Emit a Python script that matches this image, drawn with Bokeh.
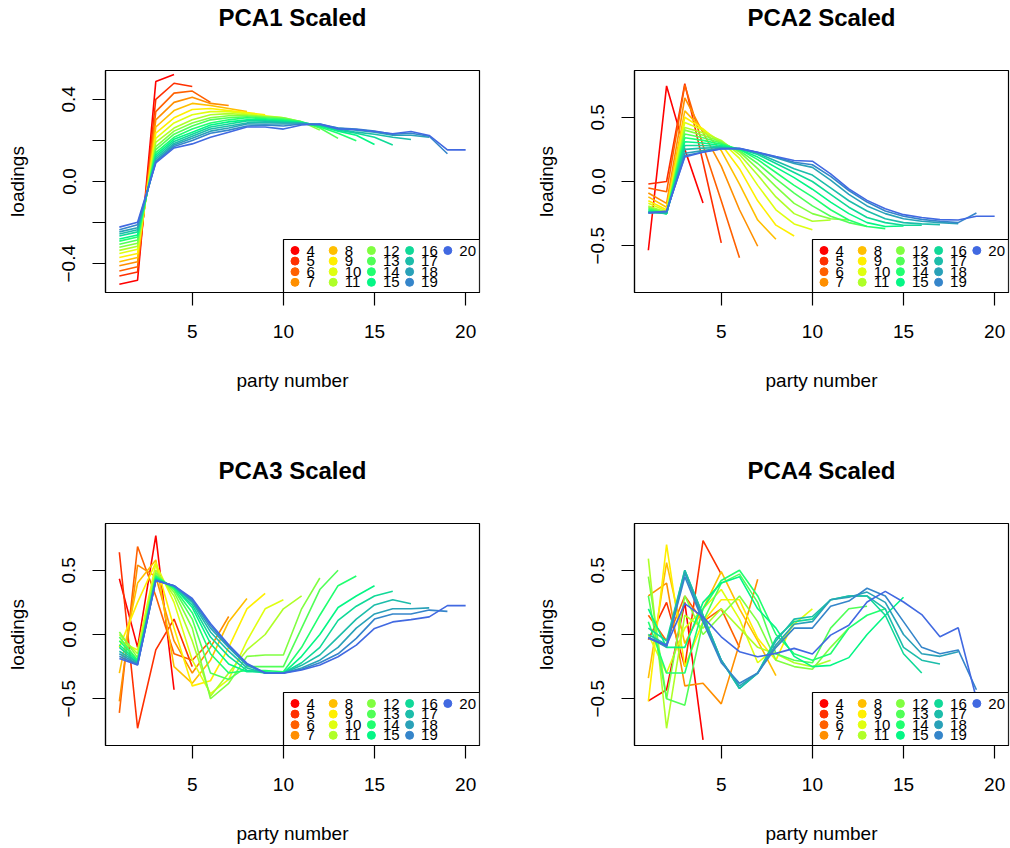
from bokeh.plotting import figure
from bokeh.layouts import gridplot
from bokeh.models import FixedTicker, Title
from bokeh.core.properties import value
from bokeh.embed import file_html
from bokeh.resources import INLINE

# ---------------- data ----------------
PARTY_COUNTS = list(range(4, 21))          # number of parties (one line each)
X_TICKS = [5, 10, 15, 20]
TITLES = ["PCA1 Scaled", "PCA2 Scaled", "PCA3 Scaled", "PCA4 Scaled"]

# PCA1 loadings, one list per party count (x = 1..n)
pca1_04 = [-0.50, -0.48, 0.486, 0.52]
pca1_05 = [-0.46, -0.44, 0.40, 0.478, 0.462]
pca1_06 = [-0.435, -0.415, 0.34, 0.43, 0.44, 0.385]
pca1_07 = [-0.41, -0.39, 0.30, 0.385, 0.41, 0.38, 0.37]
pca1_08 = [-0.39, -0.37, 0.265, 0.345, 0.38, 0.37, 0.355, 0.34]
pca1_09 = [-0.37, -0.35, 0.235, 0.31, 0.35, 0.355, 0.345, 0.335, 0.325]
pca1_10 = [-0.35, -0.33, 0.21, 0.285, 0.325, 0.34, 0.34, 0.33, 0.32, 0.31]
pca1_11 = [-0.335, -0.315, 0.19, 0.26, 0.30, 0.325, 0.33, 0.325, 0.315, 0.31, 0.29]
pca1_12 = [-0.32, -0.30, 0.17, 0.245, 0.285, 0.31, 0.32, 0.32, 0.315, 0.31, 0.29, 0.25]
pca1_13 = [-0.305, -0.285, 0.155, 0.23, 0.27, 0.30, 0.31, 0.315, 0.31, 0.305, 0.29, 0.26, 0.21]
pca1_14 = [-0.29, -0.27, 0.14, 0.215, 0.255, 0.285, 0.30, 0.31, 0.305, 0.30, 0.29, 0.265, 0.235, 0.198]
pca1_15 = [-0.28, -0.26, 0.13, 0.205, 0.24, 0.275, 0.29, 0.30, 0.30, 0.295, 0.285, 0.27, 0.245, 0.225, 0.18]
pca1_16 = [-0.265, -0.245, 0.12, 0.195, 0.23, 0.265, 0.28, 0.295, 0.295, 0.29, 0.285, 0.275, 0.25, 0.235, 0.215, 0.178]
pca1_17 = [-0.255, -0.235, 0.11, 0.185, 0.22, 0.255, 0.27, 0.285, 0.29, 0.285, 0.285, 0.275, 0.255, 0.24, 0.23, 0.215, 0.204]
pca1_18 = [-0.245, -0.225, 0.10, 0.178, 0.21, 0.245, 0.26, 0.28, 0.28, 0.28, 0.28, 0.275, 0.26, 0.25, 0.24, 0.225, 0.225, 0.215]
pca1_19 = [-0.235, -0.21, 0.095, 0.17, 0.20, 0.235, 0.25, 0.27, 0.275, 0.27, 0.28, 0.28, 0.26, 0.255, 0.245, 0.23, 0.235, 0.22, 0.135]
pca1_20 = [-0.222, -0.198, 0.09, 0.163, 0.183, 0.215, 0.24, 0.265, 0.265, 0.255, 0.275, 0.28, 0.256, 0.253, 0.243, 0.232, 0.243, 0.224, 0.154, 0.154]

# PCA2 loadings
pca2_04 = [-0.535, 0.744, 0.25, -0.168]
pca2_05 = [-0.02, 0.0, 0.762, 0.15, -0.478]
pca2_06 = [-0.05, -0.08, 0.75, 0.28, -0.15, -0.594]
pca2_07 = [-0.09, -0.17, 0.65, 0.38, 0.12, -0.22, -0.504]
pca2_08 = [-0.12, -0.20, 0.55, 0.40, 0.24, -0.02, -0.30, -0.45]
pca2_09 = [-0.15, -0.22, 0.50, 0.41, 0.29, 0.10, -0.15, -0.34, -0.424]
pca2_10 = [-0.17, -0.23, 0.46, 0.40, 0.31, 0.18, -0.03, -0.22, -0.33, -0.375]
pca2_11 = [-0.19, -0.24, 0.42, 0.38, 0.32, 0.21, 0.05, -0.12, -0.25, -0.31, -0.30]
pca2_12 = [-0.20, -0.245, 0.40, 0.36, 0.31, 0.23, 0.10, -0.04, -0.17, -0.25, -0.29, -0.30]
pca2_13 = [-0.21, -0.25, 0.37, 0.34, 0.30, 0.24, 0.14, 0.02, -0.09, -0.19, -0.27, -0.32, -0.35]
pca2_14 = [-0.22, -0.25, 0.34, 0.32, 0.29, 0.25, 0.17, 0.07, -0.03, -0.12, -0.22, -0.30, -0.35, -0.367]
pca2_15 = [-0.23, -0.25, 0.31, 0.30, 0.28, 0.25, 0.19, 0.11, 0.03, -0.06, -0.16, -0.25, -0.32, -0.35, -0.346]
pca2_16 = [-0.235, -0.25, 0.28, 0.28, 0.27, 0.255, 0.21, 0.14, 0.07, 0.0, -0.10, -0.20, -0.28, -0.32, -0.34, -0.341]
pca2_17 = [-0.24, -0.245, 0.25, 0.26, 0.265, 0.255, 0.22, 0.16, 0.10, 0.05, -0.05, -0.15, -0.23, -0.29, -0.32, -0.33, -0.336]
pca2_18 = [-0.24, -0.24, 0.22, 0.24, 0.26, 0.255, 0.225, 0.185, 0.14, 0.11, 0.01, -0.10, -0.19, -0.25, -0.29, -0.31, -0.32, -0.328]
pca2_19 = [-0.245, -0.235, 0.20, 0.23, 0.255, 0.257, 0.225, 0.19, 0.15, 0.13, 0.04, -0.07, -0.16, -0.23, -0.27, -0.295, -0.31, -0.32, -0.245]
pca2_20 = [-0.245, -0.23, 0.19, 0.227, 0.253, 0.258, 0.227, 0.194, 0.163, 0.158, 0.06, -0.057, -0.147, -0.212, -0.258, -0.28, -0.297, -0.30, -0.27, -0.27]

# PCA3 loadings
pca3_04 = [0.434, -0.10, 0.77, -0.43]
pca3_05 = [0.64, -0.73, -0.12, 0.12, -0.25]
pca3_06 = [-0.61, 0.685, 0.30, -0.15, -0.20, -0.05]
pca3_07 = [-0.52, 0.54, 0.45, -0.05, -0.30, -0.10, 0.14]
pca3_08 = [-0.30, 0.40, 0.58, -0.25, -0.38, -0.20, 0.10, 0.28]
pca3_09 = [-0.10, 0.25, 0.56, 0.05, -0.40, -0.36, -0.10, 0.20, 0.32]
pca3_10 = [-0.05, -0.12, 0.55, 0.25, -0.20, -0.46, -0.35, -0.05, 0.20, 0.27]
pca3_11 = [0.00, -0.15, 0.50, 0.30, -0.05, -0.48, -0.30, -0.12, 0.00, 0.20, 0.30]
pca3_12 = [0.02, -0.18, 0.48, 0.33, 0.05, -0.50, -0.38, -0.17, -0.16, -0.16, 0.20, 0.44]
pca3_13 = [-0.02, -0.20, 0.46, 0.35, 0.12, -0.30, -0.35, -0.25, -0.25, -0.25, 0.05, 0.35, 0.50]
pca3_14 = [-0.05, -0.20, 0.45, 0.36, 0.17, -0.15, -0.30, -0.28, -0.28, -0.29, -0.10, 0.15, 0.38, 0.455]
pca3_15 = [-0.08, -0.21, 0.44, 0.37, 0.21, -0.07, -0.23, -0.29, -0.29, -0.30, -0.17, 0.00, 0.21, 0.30, 0.38]
pca3_16 = [-0.10, -0.22, 0.43, 0.37, 0.23, -0.02, -0.17, -0.28, -0.30, -0.30, -0.22, -0.10, 0.11, 0.22, 0.30, 0.336]
pca3_17 = [-0.13, -0.22, 0.43, 0.375, 0.25, 0.02, -0.13, -0.26, -0.30, -0.30, -0.24, -0.16, -0.02, 0.12, 0.23, 0.27, 0.24]
pca3_18 = [-0.15, -0.23, 0.42, 0.38, 0.26, 0.05, -0.10, -0.24, -0.30, -0.30, -0.26, -0.20, -0.10, 0.05, 0.16, 0.20, 0.20, 0.207]
pca3_19 = [-0.17, -0.235, 0.42, 0.38, 0.27, 0.07, -0.09, -0.23, -0.30, -0.30, -0.27, -0.22, -0.15, -0.03, 0.12, 0.16, 0.16, 0.19, 0.18]
pca3_20 = [-0.186, -0.238, 0.42, 0.38, 0.28, 0.085, -0.08, -0.225, -0.30, -0.302, -0.276, -0.238, -0.173, -0.083, 0.047, 0.098, 0.116, 0.137, 0.225, 0.225]

# PCA4 loadings
pca4_04 = [-0.517, -0.43, 0.25, -0.82]
pca4_05 = [-0.04, 0.25, -0.25, 0.73, 0.47]
pca4_06 = [0.15, -0.05, 0.30, 0.10, 0.20, -0.10]
pca4_07 = [0.30, 0.40, -0.40, -0.38, -0.54, -0.07, 0.43]
pca4_08 = [-0.34, 0.56, -0.07, 0.20, 0.49, 0.20, -0.05, -0.32]
pca4_09 = [-0.52, 0.70, -0.25, 0.10, 0.27, 0.27, -0.03, -0.20, 0.11]
pca4_10 = [0.00, -0.30, 0.05, 0.20, 0.35, 0.12, -0.22, -0.10, 0.08, 0.20]
pca4_11 = [0.59, -0.73, 0.15, 0.05, 0.20, 0.05, -0.10, -0.15, -0.22, -0.25, -0.20]
pca4_12 = [0.45, -0.50, 0.30, 0.00, 0.15, 0.30, 0.10, -0.20, -0.25, -0.27, -0.10, 0.05]
pca4_13 = [0.30, -0.50, -0.55, 0.10, 0.40, 0.47, 0.25, -0.15, -0.20, -0.22, 0.05, 0.20, 0.22]
pca4_14 = [0.10, -0.30, -0.30, 0.20, 0.42, 0.50, 0.30, 0.00, -0.15, -0.20, -0.15, 0.05, 0.15, 0.20]
pca4_15 = [0.20, -0.10, -0.10, 0.25, 0.40, 0.45, 0.20, 0.05, -0.17, -0.25, -0.24, -0.18, 0.00, 0.15, 0.29]
pca4_16 = [0.05, -0.05, 0.50, 0.15, -0.20, -0.42, -0.30, -0.03, 0.10, 0.12, 0.27, 0.30, 0.30, 0.15, -0.15, -0.30]
pca4_17 = [0.00, -0.08, 0.50, 0.15, -0.20, -0.42, -0.30, -0.05, 0.12, 0.14, 0.27, 0.30, 0.30, 0.20, -0.10, -0.20, -0.23]
pca4_18 = [-0.02, -0.10, 0.48, 0.12, -0.20, -0.40, -0.30, -0.08, 0.08, 0.10, 0.27, 0.29, 0.33, 0.25, 0.00, -0.15, -0.17, -0.134]
pca4_19 = [-0.03, -0.09, 0.45, 0.10, -0.22, -0.38, -0.30, -0.10, 0.05, 0.05, 0.22, 0.26, 0.36, 0.30, 0.10, -0.10, -0.15, -0.12, -0.43]
pca4_20 = [-0.026, -0.083, 0.24, 0.137, -0.018, -0.134, -0.173, -0.147, -0.108, -0.152, -0.005, 0.072, 0.253, 0.336, 0.253, 0.155, -0.018, 0.052, -0.50, -0.70]

PCA1 = [pca1_04, pca1_05, pca1_06, pca1_07, pca1_08, pca1_09, pca1_10, pca1_11, pca1_12,
        pca1_13, pca1_14, pca1_15, pca1_16, pca1_17, pca1_18, pca1_19, pca1_20]
PCA2 = [pca2_04, pca2_05, pca2_06, pca2_07, pca2_08, pca2_09, pca2_10, pca2_11, pca2_12,
        pca2_13, pca2_14, pca2_15, pca2_16, pca2_17, pca2_18, pca2_19, pca2_20]
PCA3 = [pca3_04, pca3_05, pca3_06, pca3_07, pca3_08, pca3_09, pca3_10, pca3_11, pca3_12,
        pca3_13, pca3_14, pca3_15, pca3_16, pca3_17, pca3_18, pca3_19, pca3_20]
PCA4 = [pca4_04, pca4_05, pca4_06, pca4_07, pca4_08, pca4_09, pca4_10, pca4_11, pca4_12,
        pca4_13, pca4_14, pca4_15, pca4_16, pca4_17, pca4_18, pca4_19, pca4_20]

# ---------------- style ----------------
COLORS = ["#FF0000", "#FF3000", "#FF6000", "#FF8F00", "#FFBF00", "#FFEF00", "#DFFF10",
          "#AFFF28", "#80FF40", "#50FF57", "#20FF6F", "#04F685", "#10D998", "#1CBDAA",
          "#29A1B8", "#3585CA", "#4169E1"]
FONT = "Liberation Sans"
FRAME_W, FRAME_H = 374, 222
X_RANGE = (0.24, 20.76)


def make_panel(title, series, ylim, yticks, ylabels, right_border, bottom_border):
    y_range = (ylim[0] - 0.04 * (ylim[1] - ylim[0]), ylim[1] + 0.04 * (ylim[1] - ylim[0]))
    p = figure(frame_width=FRAME_W, frame_height=FRAME_H, x_range=X_RANGE, y_range=y_range,
               output_backend="svg", toolbar_location=None, title=None,
               min_border_left=105, min_border_right=right_border,
               min_border_top=70, min_border_bottom=bottom_border)
    p.xgrid.visible = False
    p.ygrid.visible = False
    p.outline_line_color = "black"
    p.outline_line_alpha = 1.0
    p.outline_line_width = 1.2
    p.background_fill_color = "white"
    p.border_fill_color = "white"

    # spacer between frame and title (keeps the title high, like R's main title)
    spacer = Title(text=" ", text_font=FONT, text_font_size="24px", standoff=11)
    p.add_layout(spacer, "above")
    main = Title(text=title, align="center", vertical_align="bottom", text_font=FONT,
                 text_font_size="24px", text_font_style="bold", text_color="black", standoff=0)
    p.add_layout(main, "above")

    for ax in (p.xaxis[0], p.yaxis[0]):
        ax.axis_line_color = "black"
        ax.axis_line_width = 1.2
        ax.major_tick_line_color = "black"
        ax.major_tick_line_width = 1.2
        ax.major_tick_out = 13
        ax.major_tick_in = 0
        ax.minor_tick_out = 0
        ax.minor_tick_in = 0
        ax.major_label_text_font = FONT
        ax.major_label_text_font_size = "19px"
        ax.major_label_text_color = "black"
        ax.axis_label_text_font = FONT
        ax.axis_label_text_font_size = "19px"
        ax.axis_label_text_font_style = "normal"
        ax.axis_label_text_color = "black"

    p.xaxis.ticker = FixedTicker(ticks=X_TICKS)
    p.xaxis.axis_label = "party number"
    p.xaxis.major_label_standoff = 19
    p.xaxis.axis_label_standoff = 29

    p.yaxis.ticker = FixedTicker(ticks=yticks)
    p.yaxis.major_label_overrides = {t: lab for t, lab in zip(yticks, ylabels)}
    p.yaxis.major_label_orientation = "vertical"
    p.yaxis.axis_label = "loadings"
    p.yaxis.major_label_standoff = 17
    p.yaxis.axis_label_standoff = 32

    for n, vals, col in zip(PARTY_COUNTS, series, COLORS):
        p.line(list(range(1, n + 1)), vals, line_color=col, line_width=1.6)

    # legend box (bottom-right corner of the frame), R style
    sx = (X_RANGE[1] - X_RANGE[0]) / FRAME_W
    sy = (y_range[1] - y_range[0]) / FRAME_H
    left = X_RANGE[0] + 178 * sx
    top = y_range[0] + 53 * sy
    p.quad(left=[left], right=[X_RANGE[1]], bottom=[y_range[0]], top=[top],
           fill_color="white", line_color="black", line_width=1.2)
    dx, dy, tx = [], [], []
    for i, n in enumerate(PARTY_COUNTS):
        col, row = i // 4, i % 4
        dx.append(left + (11.5 + 38.2 * col) * sx)
        dy.append(top - (11 + 10.6 * row) * sy)
        tx.append(left + (23.0 + 38.2 * col) * sx)
    p.scatter(dx, dy, size=8, marker="circle", fill_color=COLORS, line_color=COLORS)
    p.text(tx, dy, text=[str(n) for n in PARTY_COUNTS], text_font=value(FONT),
           text_font_size="15px", text_baseline="middle", text_align="left", text_color="black")
    return p


p1 = make_panel(TITLES[0], PCA1, (-0.5, 0.5), [-0.4, -0.2, 0.0, 0.2, 0.4],
                ["\u22120.4", "", "0.0", "", "0.4"], 50, 161)
p2 = make_panel(TITLES[1], PCA2, (-0.8, 0.8), [-0.5, 0.0, 0.5],
                ["\u22120.5", "0.0", "0.5"], 2, 161)
p3 = make_panel(TITLES[2], PCA3, (-0.8, 0.8), [-0.5, 0.0, 0.5],
                ["\u22120.5", "0.0", "0.5"], 50, 103)
p4 = make_panel(TITLES[3], PCA4, (-0.8, 0.8), [-0.5, 0.0, 0.5],
                ["\u22120.5", "0.0", "0.5"], 2, 103)

grid = gridplot([[p1, p2], [p3, p4]], toolbar_location=None)

open("out.html", "w").write(file_html(grid, INLINE))
